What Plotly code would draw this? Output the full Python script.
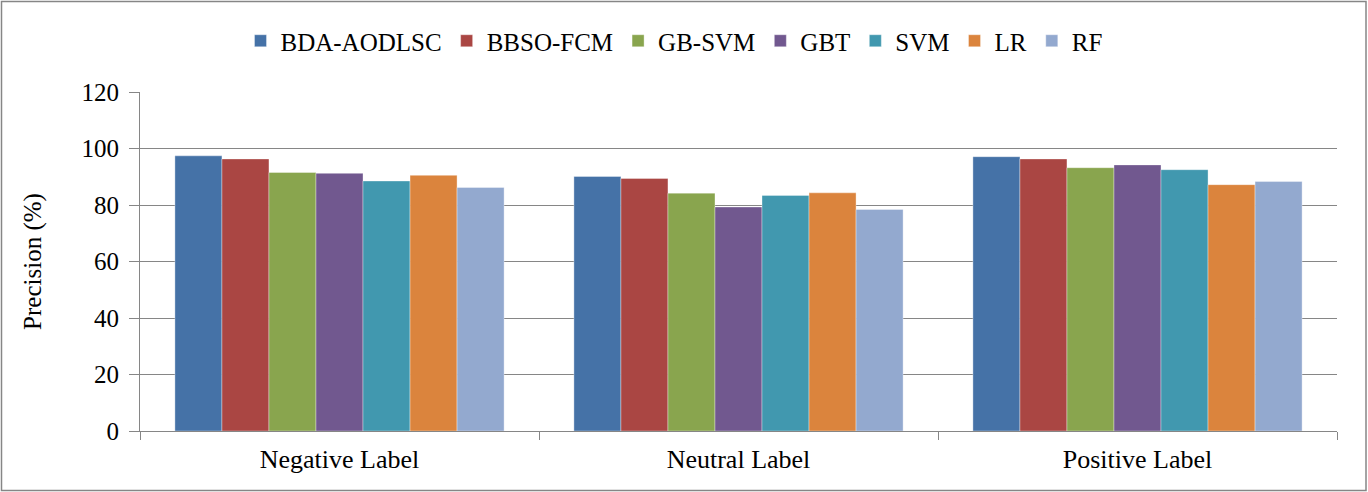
import plotly.graph_objects as go

categories = ["Negative Label", "Neutral Label", "Positive Label"]
series_names = ["BDA-AODLSC", "BBSO-FCM", "GB-SVM", "GBT", "SVM", "LR", "RF"]
bda_aodlsc = [97.4, 90.1, 97.1]
bbso_fcm = [96.3, 89.4, 96.3]
gb_svm = [91.5, 84.2, 93.2]
gbt = [91.2, 79.3, 94.2]
svm = [88.5, 83.4, 92.5]
lr = [90.5, 84.3, 87.2]
rf = [86.2, 78.4, 88.3]
colors = ["#4572A7", "#AA4643", "#89A54E", "#71588F", "#4198AF", "#DB843D", "#93A9CF"]
y_ticks = [0, 20, 40, 60, 80, 100, 120]

values = [bda_aodlsc, bbso_fcm, gb_svm, gbt, svm, lr, rf]

fig = go.Figure()
for name, vals, col in zip(series_names, values, colors):
    fig.add_trace(go.Bar(
        x=categories, y=vals, name=name,
        marker=dict(color=col, line=dict(color="rgba(255,255,255,0.35)", width=1)),
    ))

W, H = 1368, 492
ml, mr, mt, mb = 140, 31, 92, 61
pw, ph = W - ml - mr, H - mt - mb

def px(xp):
    return (xp - ml) / pw

def py(yp):
    return (H - mb - yp) / ph

FF = "Liberation Serif"

fig.update_layout(
    width=W, height=H,
    margin=dict(l=ml, r=mr, t=mt, b=mb),
    paper_bgcolor="white", plot_bgcolor="white",
    barmode="group", bargap=0.175, bargroupgap=0,
    font=dict(family=FF, size=24, color="black"),
    showlegend=True,
    legend=dict(
        orientation="h", x=px(674), y=py(41), xanchor="center", yanchor="middle",
        font=dict(family=FF, size=25, color="black"),
        itemwidth=30, tracegroupgap=0, traceorder="normal",
    ),
    xaxis=dict(
        type="category", showgrid=False, showline=True, linecolor="#868686", linewidth=1,
        ticks="outside", tickson="boundaries", ticklen=8, tickcolor="#868686",
        tickfont=dict(family=FF, size=26, color="black"), ticklabelstandoff=5,
    ),
    yaxis=dict(
        range=[0, 120], tickvals=y_ticks, showgrid=True, gridcolor="#868686", gridwidth=1,
        showline=True, linecolor="#868686", linewidth=1, ticks="outside", ticklen=10,
        tickcolor="#868686", zeroline=False,
        tickfont=dict(family=FF, size=25, color="black"), ticklabelstandoff=5,
        title=dict(text="Precision (%)", font=dict(family=FF, size=25, color="black"), standoff=32),
    ),
    shapes=[dict(
        type="rect", xref="paper", yref="paper",
        x0=px(1.5), x1=px(1366), y0=py(490.5), y1=py(1.5),
        line=dict(color="#868686", width=1.5), fillcolor="rgba(0,0,0,0)", layer="below",
    )],
)

fig.write_html("out.html", post_script="document.body.style.margin='0';",
               config={"displayModeBar": False})
